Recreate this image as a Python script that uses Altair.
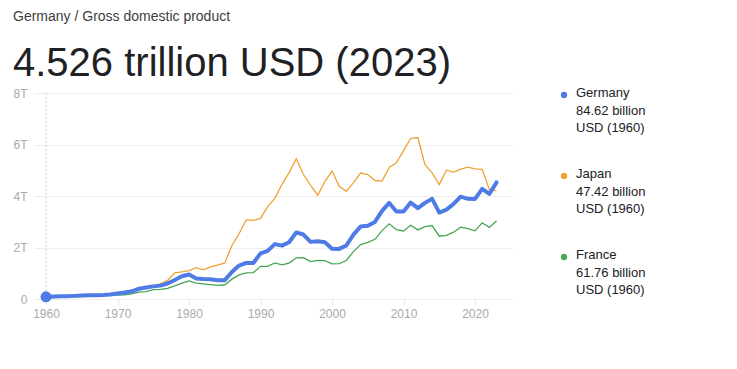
import altair as alt
import pandas as pd

years = list(range(1960, 2024))

germany = [0.0846, 0.0951, 0.1045, 0.1109, 0.1214, 0.1329, 0.1412, 0.1443, 0.1558, 0.1758,
           0.2154, 0.2492, 0.2999, 0.3984, 0.4450, 0.4905, 0.5196, 0.6006, 0.7400, 0.8817,
           0.9501, 0.8005, 0.7766, 0.7704, 0.7259, 0.7326, 1.0469, 1.2973, 1.4016, 1.3984,
           1.7717, 1.8682, 2.1315, 2.0714, 2.2059, 2.5858, 2.5037, 2.2184, 2.2432, 2.2001,
           1.9474, 1.9451, 2.0782, 2.5013, 2.8147, 2.8460, 2.9927, 3.4213, 3.7302, 3.3976,
           3.3961, 3.7441, 3.5275, 3.7332, 3.8898, 3.3570, 3.4690, 3.6903, 3.9743, 3.8891,
           3.8875, 4.2783, 4.0827, 4.5259]

japan = [0.0474, 0.0537, 0.0607, 0.0692, 0.0818, 0.0910, 0.1059, 0.1239, 0.1469, 0.1726,
         0.2128, 0.2403, 0.3184, 0.4320, 0.4795, 0.5219, 0.5862, 0.7213, 1.0156, 1.0559,
         1.1054, 1.2182, 1.1348, 1.2435, 1.3182, 1.3985, 2.0786, 2.5327, 3.0718, 3.0545,
         3.1328, 3.5844, 3.9088, 4.4545, 4.9070, 5.4491, 4.8331, 4.4149, 4.0325, 4.5620,
         4.9683, 4.3746, 4.1829, 4.5197, 4.8931, 4.8314, 4.6014, 4.5794, 5.1060, 5.2891,
         5.7591, 6.2331, 6.2721, 5.2123, 4.8965, 4.4449, 5.0037, 4.9309, 5.0409, 5.1178,
         5.0555, 5.0345, 4.2564, 4.2129]

france = [0.0618, 0.0672, 0.0758, 0.0850, 0.0944, 0.1016, 0.1103, 0.1187, 0.1298, 0.1409,
          0.1485, 0.1653, 0.2036, 0.2646, 0.2860, 0.3602, 0.3720, 0.4104, 0.5060, 0.6137,
          0.7012, 0.6155, 0.5848, 0.5594, 0.5304, 0.5535, 0.7713, 0.9347, 1.0182, 1.0254,
          1.2693, 1.2693, 1.4010, 1.3228, 1.3937, 1.6010, 1.6053, 1.4525, 1.5034, 1.4930,
          1.3654, 1.3770, 1.4940, 1.8403, 2.1159, 2.1967, 2.3187, 2.6572, 2.9182, 2.6903,
          2.6425, 2.8615, 2.6838, 2.8111, 2.8524, 2.4387, 2.4714, 2.5953, 2.7900, 2.7287,
          2.6470, 2.9591, 2.7799, 3.0305]

series = ["Germany", "Japan", "France"]
colors = ["#4f7be6", "#eea236", "#46a653"]
legend_values = ["84.62 billion", "47.42 billion", "61.76 billion"]
legend_unit = "USD (1960)"
y_ticks = [0, 2, 4, 6, 8]
x_ticks = [1960, 1970, 1980, 1990, 2000, 2010, 2020]

rows = []
for name, vals in zip(series, [germany, japan, france]):
    for yr, v in zip(years, vals):
        rows.append({"year": yr, "series": name, "value": v})
df = pd.DataFrame(rows)

color_scale = alt.Scale(domain=series, range=colors)
no_border = alt.ViewBackground(stroke="transparent", strokeWidth=0)

x_enc = alt.X("year:Q",
              scale=alt.Scale(domain=[1958.32, 2025.31], nice=False, zero=False),
              axis=alt.Axis(values=x_ticks, format="d", grid=False, domain=False,
                            ticks=True, tickSize=6, tickColor="#e6e6e6",
                            labelColor="#aaaaaa", labelFontSize=12, labelFont="Liberation Sans",
                            labelPadding=3),
              title=None)
y_enc = alt.Y("value:Q",
              scale=alt.Scale(domain=[0, 8], nice=False),
              axis=alt.Axis(values=y_ticks,
                            labelExpr="datum.value == 0 ? '0' : datum.value + 'T'",
                            grid=True, gridColor="#eeeeee", ticks=False, domain=False,
                            labelColor="#aaaaaa", labelFontSize=12, labelFont="Liberation Sans",
                            labelPadding=7),
              title=None)

base = alt.Chart(df)

rule = alt.Chart(pd.DataFrame({"year": [years[0]]})).mark_rule(
    color="#cccccc", strokeDash=[2, 2], strokeWidth=1
).encode(x=alt.X("year:Q"))

others = base.transform_filter(alt.datum.series != "Germany").mark_line(strokeWidth=1.3).encode(
    x=x_enc, y=y_enc,
    color=alt.Color("series:N", scale=color_scale, legend=None),
)
ger = base.transform_filter(alt.datum.series == "Germany").mark_line(
    strokeWidth=4, strokeJoin="round", strokeCap="round"
).encode(
    x="year:Q", y="value:Q",
    color=alt.Color("series:N", scale=color_scale, legend=None),
)
dot = base.transform_filter(
    (alt.datum.series == "Germany") & (alt.datum.year == years[0])
).mark_circle(size=120, opacity=1).encode(
    x="year:Q", y="value:Q",
    color=alt.Color("series:N", scale=color_scale, legend=None),
)

main = alt.layer(others, rule, ger, dot).properties(width=479, height=206, view=no_border)

leg_df = pd.DataFrame({
    "series": series,
    "idx": list(range(len(series))),
    "label": [f"{s}\n{v}\n{legend_unit}" for s, v in zip(series, legend_values)],
})
leg_y = alt.Y("idx:Q", scale=alt.Scale(domain=[0, 2], range=[2, 164], nice=False, zero=False), axis=None)
leg_dots = alt.Chart(leg_df).mark_circle(size=40, opacity=1).encode(
    x=alt.value(5), y=leg_y,
    color=alt.Color("series:N", scale=color_scale, legend=None),
)
leg_text = alt.Chart(leg_df).mark_text(
    align="left", baseline="top", lineBreak="\n", lineHeight=17.5,
    font="Liberation Sans", fontSize=13, color="#202124", dy=-8,
).encode(x=alt.value(17), y=leg_y, text="label:N")
legend = alt.layer(leg_dots, leg_text).properties(width=150, height=206, view=no_border)

chart = alt.hconcat(main, legend, spacing=46).properties(
    title=alt.TitleParams(
        text="Germany / Gross domestic product",
        subtitle="4.526 trillion USD (2023)",
        anchor="start", frame="bounds",
        font="Liberation Sans", fontSize=14, fontWeight="normal", color="#3c4043",
        subtitleFont="Liberation Sans", subtitleFontSize=40, subtitleColor="#202124",
        subtitlePadding=20, offset=3,
    ),
    padding={"left": 4, "top": 2, "right": 5, "bottom": 5},
).configure_view(stroke="transparent", strokeWidth=0).configure(background="white")

chart.save("out.html", embed_options={"renderer": "svg", "actions": False})
